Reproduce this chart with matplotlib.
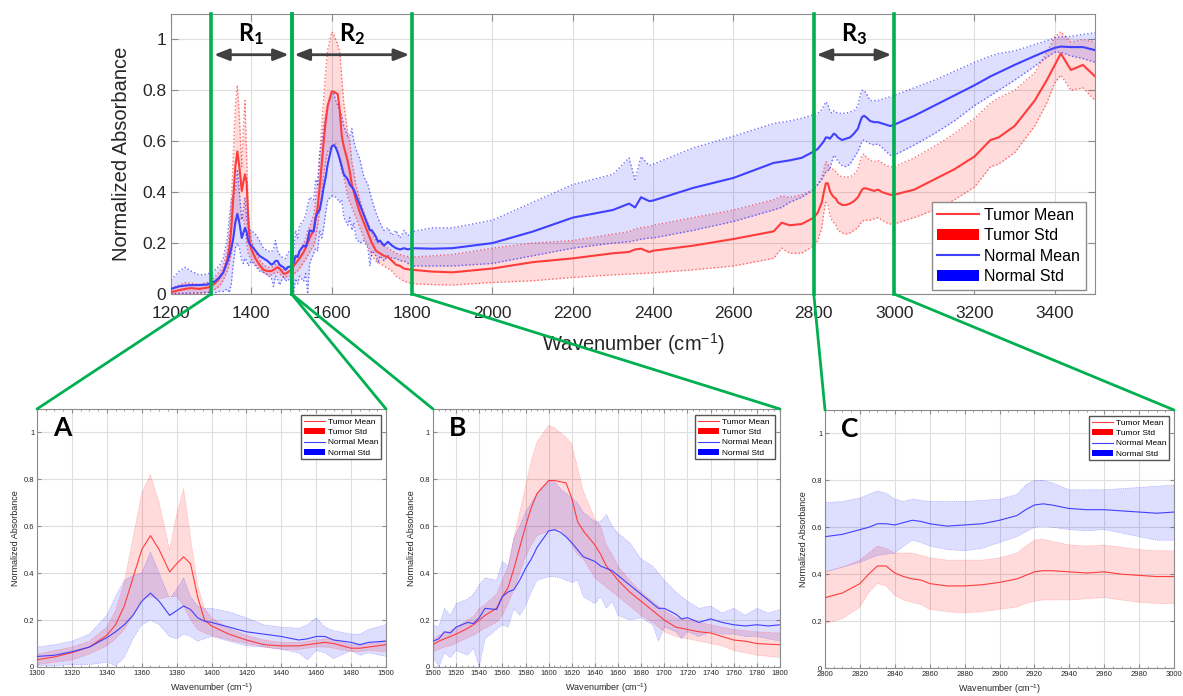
import numpy as np
import matplotlib
matplotlib.use('Agg')
from matplotlib import pyplot as plt
from matplotlib.lines import Line2D
from matplotlib.patches import Patch, ConnectionPatch
from matplotlib.ticker import MultipleLocator

plt.rcParams['font.family'] = ['Liberation Sans', 'DejaVu Sans']
plt.rcParams['mathtext.default'] = 'regular'

# wavenumbers (cm-1), denser inside the three zoomed regions
wn = [1200, 1220, 1235, 1250, 1270, 1290,
      1300, 1310, 1320, 1330, 1340, 1345, 1350, 1355, 1360, 1365, 1370, 1376, 1380, 1384, 1388,
      1392, 1396, 1400, 1410, 1420, 1430, 1440, 1450, 1455, 1460, 1465, 1470, 1480, 1485, 1490, 1500,
      1505, 1510, 1515, 1520, 1530, 1535, 1540, 1545, 1555, 1560, 1565, 1570, 1575, 1580, 1585,
      1590, 1600, 1605, 1610, 1615, 1620, 1625, 1630, 1640, 1645, 1650, 1655, 1660, 1670, 1680,
      1690, 1695, 1700, 1710, 1715, 1720, 1730, 1740, 1750, 1760, 1770, 1780, 1790, 1800,
      1850, 1900, 2000, 2100, 2200, 2300, 2340, 2355, 2370, 2390, 2400, 2500, 2600, 2700, 2720,
      2740, 2770, 2800,
      2810, 2820, 2825, 2830, 2835, 2840, 2845, 2850, 2855, 2860, 2870, 2880, 2890, 2900, 2910,
      2915, 2920, 2925, 2930, 2940, 2950, 2960, 2970, 2980, 2990, 3000,
      3050, 3100, 3150, 3200, 3240, 3260, 3300, 3350, 3380, 3400, 3415, 3440, 3470, 3500]

tumor_mean = [.007, .015, .02, .023, .02, .025,
              .031, .043, .061, .085, .135, .18, .26, .38, .50, .56, .50, .405, .44, .47, .44,
              .30, .20, .175, .14, .115, .095, .09, .09, .095, .10, .105, .10, .08, .08, .085, .095,
              .11, .12, .13, .14, .165, .18, .20, .22, .25, .30, .34, .42, .51, .60, .68,
              .74, .795, .795, .79, .785, .72, .62, .58, .52, .48, .43, .40, .37, .32, .28,
              .24, .22, .20, .17, .165, .16, .15, .145, .13, .115, .11, .10, .097, .095,
              .088, .085, .10, .125, .14, .16, .165, .175, .178, .165, .17, .19, .216, .246, .28,
              .27, .275, .30,
              .32, .36, .40, .435, .435, .405, .39, .38, .375, .36, .35, .35, .355, .365, .38,
              .395, .41, .415, .415, .41, .405, .41, .40, .395, .39, .39,
              .41, .45, .49, .54, .605, .615, .66, .76, .84, .90, .945, .88, .90, .855]
tumor_hi = [.023, .035, .045, .042, .038, .045,
            .055, .07, .085, .11, .17, .24, .36, .55, .74, .82, .70, .50, .65, .76, .55,
            .35, .25, .21, .165, .135, .115, .105, .105, .11, .115, .12, .115, .095, .095, .10, .115,
            .135, .145, .155, .17, .20, .215, .25, .265, .31, .37, .43, .55, .66, .77, .88,
            .96, 1.03, 1.02, 1.0, .98, .95, .85, .75, .63, .60, .52, .48, .43, .37, .32,
            .28, .26, .24, .21, .205, .20, .19, .18, .17, .16, .155, .15, .147, .145,
            .15, .155, .18, .20, .21, .235, .245, .255, .26, .265, .27, .30, .33, .37, .385,
            .38, .39, .41,
            .43, .46, .49, .52, .51, .49, .49, .49, .48, .47, .46, .46, .46, .47, .49,
            .52, .545, .55, .54, .525, .52, .525, .515, .505, .50, .50,
            .535, .58, .63, .69, .75, .77, .80, .87, .95, 1.01, 1.03, .99, 1.0, .99]
tumor_lo = [0, 0, 0, .002, .002, .005,
            .01, .02, .03, .055, .09, .12, .16, .22, .29, .30, .29, .30, .30, .26, .20,
            .16, .145, .135, .115, .10, .085, .075, .075, .08, .085, .085, .08, .065, .065, .07, .065,
            .075, .085, .09, .10, .125, .135, .15, .165, .19, .22, .27, .33, .40, .47, .52,
            .56, .58, .585, .59, .56, .52, .48, .46, .38, .36, .34, .32, .30, .26, .22,
            .19, .17, .15, .13, .125, .12, .11, .10, .09, .07, .06, .05, .045, .04,
            .037, .035, .045, .052, .065, .075, .078, .08, .08, .082, .083, .095, .11, .14, .18,
            .16, .16, .19,
            .21, .26, .32, .36, .35, .31, .29, .28, .27, .25, .24, .235, .24, .25, .26,
            .275, .285, .29, .29, .29, .295, .30, .29, .28, .275, .275,
            .30, .33, .37, .42, .50, .51, .555, .66, .75, .83, .86, .80, .81, .76]

normal_mean = [.02, .03, .033, .035, .035, .037,
               .045, .05, .065, .085, .125, .15, .18, .22, .28, .315, .28, .22, .24, .26, .245,
               .21, .195, .19, .17, .15, .14, .13, .115, .12, .13, .13, .115, .105, .095, .105, .11,
               .12, .15, .145, .17, .19, .185, .21, .25, .245, .30, .32, .33, .37, .42, .46,
               .51, .58, .585, .575, .555, .53, .50, .47, .45, .43, .42, .41, .39, .35, .31,
               .27, .25, .25, .225, .205, .21, .19, .205, .19, .18, .175, .18, .175, .18,
               .178, .18, .20, .245, .30, .33, .355, .34, .38, .365, .367, .417, .456, .515, .52,
               .525, .535, .56,
               .57, .59, .60, .615, .615, .61, .62, .63, .625, .615, .605, .61, .615, .63, .65,
               .675, .695, .70, .695, .68, .675, .675, .67, .665, .66, .665,
               .70, .74, .78, .82, .855, .87, .90, .935, .955, .967, .972, .97, .97, .958]
normal_hi = [.055, .09, .105, .09, .075, .078,
             .085, .095, .11, .14, .22, .30, .37, .39, .40, .49, .40, .29, .33, .38, .30,
             .26, .25, .25, .235, .21, .18, .17, .165, .18, .21, .17, .155, .14, .14, .16, .18,
             .17, .25, .22, .27, .29, .31, .35, .38, .37, .45, .43, .55, .60, .66, .70,
             .74, .79, .79, .76, .74, .72, .70, .66, .62, .62, .65, .60, .57, .53, .46,
             .43, .40, .37, .32, .30, .28, .25, .26, .23, .25, .22, .25, .23, .245,
             .26, .26, .29, .36, .43, .47, .535, .45, .54, .505, .51, .574, .62, .67, .675,
             .68, .69, .705,
             .71, .725, .74, .755, .745, .72, .71, .72, .715, .71, .71, .71, .715, .72, .74,
             .78, .80, .80, .79, .76, .76, .76, .765, .77, .775, .78,
             .81, .84, .875, .91, .935, .945, .955, .98, .995, 1.007, 1.01, 1.012, 1.02, 1.026]
normal_lo = [0, .003, .003, .004, .005, .006,
             .005, .005, .01, .01, .02, .005, .04, .12, .18, .20, .18, .13, .12, .14, .13,
             .11, .12, .13, .11, .09, .085, .075, .06, .03, .07, .06, .035, .07, .05, .06, .045,
             0, .06, .04, .07, .05, .08, 0, .12, .16, .18, .17, .25, .22, .26, .32,
             .37, .385, .385, .38, .37, .36, .37, .30, .27, .30, .25, .28, .22, .20, .21,
             .18, .11, .17, .15, .12, .15, .13, .15, .14, .14, .13, .13, .12, .11,
             .11, .11, .12, .15, .18, .20, .205, .21, .215, .22, .22, .25, .285, .33, .34,
             .36, .38, .41,
             .43, .45, .465, .48, .485, .49, .52, .545, .535, .52, .505, .50, .51, .535, .56,
             .58, .60, .605, .60, .59, .585, .59, .575, .56, .545, .545,
             .585, .63, .68, .74, .78, .80, .84, .895, .93, .95, .95, .935, .925, .91]

legend_labels = ['Tumor Mean', 'Tumor Std', 'Normal Mean', 'Normal Std']
regions = [(1300, 1500), (1500, 1800), (2800, 3000)]
region_names = [r'R$_1$', r'R$_2$', r'R$_3$']
panel_names = ['A', 'B', 'C']

RED_LINE = '#ff3c3c'
BLUE_LINE = '#4040ff'
GREEN = '#00b050'
FRAME = '#8c8c8c'
TXT = '#262626'


def draw_spectra(ax, lw_mean, lw_edge, edge_alpha):
    ax.fill_between(wn, tumor_lo, tumor_hi, color='red', alpha=0.14, lw=0)
    ax.fill_between(wn, normal_lo, normal_hi, color='blue', alpha=0.13, lw=0)
    for lo, hi, c in [(tumor_lo, tumor_hi, 'red'), (normal_lo, normal_hi, 'blue')]:
        ax.plot(wn, lo, ':', color=c, lw=lw_edge, alpha=edge_alpha)
        ax.plot(wn, hi, ':', color=c, lw=lw_edge, alpha=edge_alpha)
    ax.plot(wn, tumor_mean, color=RED_LINE, lw=lw_mean, zorder=4)
    ax.plot(wn, normal_mean, color=BLUE_LINE, lw=lw_mean, zorder=4)


def style_axes(ax, labelsize, length):
    ax.set_ylim(0, 1.1)
    ax.set_yticks([0, 0.2, 0.4, 0.6, 0.8, 1])
    ax.set_yticklabels(['0', '0.2', '0.4', '0.6', '0.8', '1'])
    ax.tick_params(direction='in', top=True, right=True, length=length, width=0.8,
                   color=FRAME, labelcolor=TXT, labelsize=labelsize)
    ax.grid(True, color='#dedede', lw=0.8)
    ax.set_axisbelow(True)
    for s in ax.spines.values():
        s.set_color(FRAME)


def legend_handles(lw):
    return [Line2D([], [], color=RED_LINE, lw=lw),
            Patch(facecolor='red', edgecolor='none'),
            Line2D([], [], color=BLUE_LINE, lw=lw),
            Patch(facecolor='blue', edgecolor='none')]


fig = plt.figure(figsize=(11.83, 6.96), dpi=100)

# main spectrum
ax = fig.add_axes([0.1446, 0.5776, 0.781, 0.4023])
draw_spectra(ax, 1.5, 1.0, 0.55)
ax.set_xlim(1200, 3500)
ax.set_xticks(range(1200, 3401, 200))
style_axes(ax, 12.5, 5)
ax.tick_params(axis='x', pad=9)
ax.set_xlabel('Wavenumber (cm$^{-1}$)', fontsize=14.5, color=TXT, labelpad=7)
ax.set_ylabel('Normalized Absorbance', fontsize=14.5, color=TXT, labelpad=8)
ax.legend(legend_handles(1.5), legend_labels, loc='lower right', bbox_to_anchor=(0.99, 0.014),
          borderaxespad=0, fontsize=11.5, handlelength=2.6, handletextpad=0.35,
          labelspacing=0.35, borderpad=0.35, fancybox=False, framealpha=1,
          edgecolor=FRAME)

for (x0, x1), name in zip(regions, region_names):
    for x in (x0, x1):
        ax.axvline(x, color=GREEN, lw=2.6, zorder=6, clip_on=False)
    ax.annotate('', xy=(x0, 0.94), xytext=(x1, 0.94),
                arrowprops=dict(arrowstyle='<|-|>,head_length=0.9,head_width=0.35',
                                color='#404040', lw=2, shrinkA=2, shrinkB=2))
    ax.text((x0 + x1) / 2, 1.02, name, family='Lato', fontweight='bold', fontsize=17,
            ha='center', va='center', color='black')

# zoomed panels
panel_pos = [[0.0313, 0.0417, 0.295, 0.3707],
             [0.366, 0.0417, 0.2933, 0.3707],
             [0.6974, 0.0402, 0.295, 0.3707]]
for pos, (x0, x1), letter in zip(panel_pos, regions, panel_names):
    pa = fig.add_axes(pos)
    draw_spectra(pa, 0.8, 0.5, 0.4)
    pa.set_xlim(x0, x1)
    pa.set_xticks(range(x0, x1 + 1, 20))
    pa.xaxis.set_minor_locator(MultipleLocator(5))
    style_axes(pa, 5.5, 3)
    pa.tick_params(pad=2)
    pa.tick_params(which='minor', direction='in', top=True, length=1.5, width=0.6, color=FRAME)
    pa.set_xlabel('Wavenumber (cm$^{-1}$)', fontsize=6.5, color=TXT, labelpad=3)
    pa.set_ylabel('Normalized Absorbance', fontsize=6.5, color=TXT, labelpad=3)
    pa.text(0.045, 0.925, letter, transform=pa.transAxes, family='Lato', fontweight='bold',
            fontsize=19, ha='left', va='center', color='black')
    pa.legend(legend_handles(0.8), legend_labels, loc='upper right', bbox_to_anchor=(0.985, 0.975),
              borderaxespad=0, fontsize=6, handlelength=2.6, handletextpad=0.3,
              labelspacing=0.3, borderpad=0.3, fancybox=False, framealpha=1,
              edgecolor='#555555')
    for x in (x0, x1):
        con = ConnectionPatch(xyA=(x, 0), coordsA=ax.transData, xyB=(x, 1.1), coordsB=pa.transData,
                              color=GREEN, lw=2)
        fig.add_artist(con)

fig.savefig('out.png', dpi=100)
